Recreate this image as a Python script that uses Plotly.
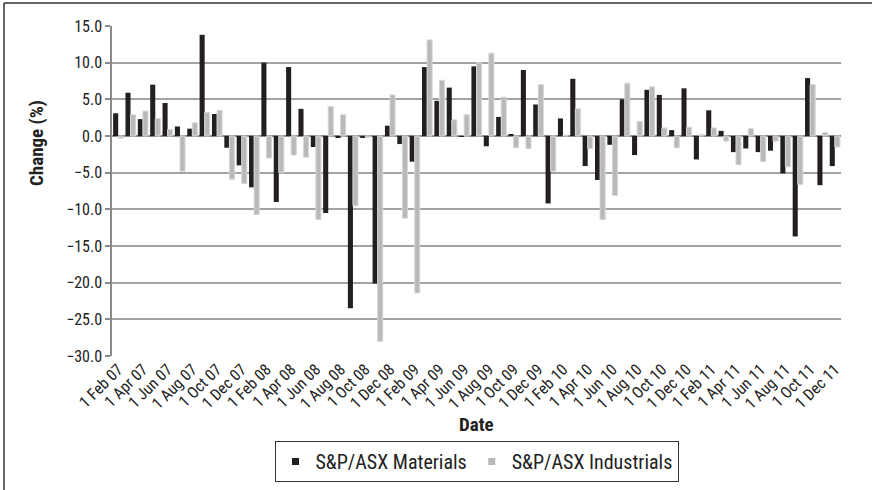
import plotly.graph_objects as go

months = ["Jan","Feb","Mar","Apr","May","Jun","Jul","Aug","Sep","Oct","Nov","Dec"]
dates = []
for yr in range(7, 12):
    for mi, m in enumerate(months):
        if yr == 7 and mi == 0:
            continue
        dates.append(f"1 {m} {yr:02d}")

materials = [3.1, 5.9, 2.3, 7.0, 4.5, 1.3, 1.0, 13.8, 3.0, -1.6, -4.0, -7.0,
             10.0, -9.0, 9.4, 3.7, -1.5, -10.5, -0.2, -23.5, -0.2, -20.1, 1.4, -1.1,
             -3.5, 9.4, 4.8, 6.6, -0.1, 9.5, -1.4, 2.6, 0.2, 9.0, 4.3, -9.2,
             2.4, 7.8, -4.1, -6.0, -1.2, 5.0, -2.6, 6.3, 5.6, 0.8, 6.5, -3.2,
             3.5, 0.7, -2.2, -1.7, -2.2, -2.0, -5.1, -13.7, 7.9, -6.7, -4.1]
industrials = [-0.3, 2.9, 3.4, 2.4, 0.9, -4.8, 1.8, 3.2, 3.5, -5.9, -6.5, -10.7,
               -3.0, -5.0, -2.6, -2.9, -11.4, 4.0, 2.9, -9.5, -0.2, -28.0, 5.6, -11.2,
               -21.4, 13.1, 7.6, 2.2, 2.9, 10.0, 11.3, 5.3, -1.6, -1.7, 7.0, -4.8,
               0.1, 3.7, -1.7, -11.4, -8.1, 7.2, 2.0, 6.7, 1.1, -1.6, 1.2, 0.2,
               1.1, -0.7, -3.9, 1.0, -3.5, -0.7, -4.2, -6.6, 7.0, 0.5, -1.5]
tick_labels = dates[::2]
y_ticks = [15, 10, 5, 0, -5, -10, -15, -20, -25, -30]

FONT = "Liberation Sans Narrow, Arial Narrow, Roboto Condensed, sans-serif"
BLACK = "#231f20"
GRAY = "#b9b9b9"

fig = go.Figure()
fig.add_trace(go.Bar(x=dates, y=materials, name="S&P/ASX Materials", showlegend=False,
                     marker=dict(color=BLACK, line=dict(width=0))))
fig.add_trace(go.Bar(x=dates, y=industrials, name="S&P/ASX Industrials", showlegend=False,
                     marker=dict(color=GRAY, line=dict(color="#d6d6d6", width=1))))
# legend entries with small square keys
fig.add_trace(go.Scatter(x=[None], y=[None], mode="markers", name="S&P/ASX Materials",
                         marker=dict(symbol="square", size=7, color=BLACK)))
fig.add_trace(go.Scatter(x=[None], y=[None], mode="markers", name="S&P/ASX Industrials",
                         marker=dict(symbol="square", size=7, color=GRAY)))

L, R, T, B = 112, 31, 26, 134
W, H = 872, 490
pw, ph = W - L - R, H - T - B

def px(xp):
    return (xp - L) / pw

def py(yp):
    return (H - B - yp) / ph

fig.update_layout(
    width=W, height=H,
    margin=dict(l=L, r=R, t=T, b=B, autoexpand=False),
    paper_bgcolor="white", plot_bgcolor="white",
    barmode="group", bargap=0.18, bargroupgap=0.0,
    font=dict(family=FONT, size=14, color="#222"),
    showlegend=True,
    legend=dict(orientation="h", x=0.5, xanchor="center", y=py(441), yanchor="top",
                bordercolor="#333", borderwidth=1, bgcolor="white",
                font=dict(family=FONT, size=20, color="#222"),
                itemwidth=30, tracegroupgap=0),
    xaxis=dict(type="category", tickmode="array", tickvals=tick_labels, ticktext=tick_labels,
               tickangle=-45, showgrid=False, showline=False, ticks="", automargin=False,
               tickfont=dict(family=FONT, size=16, color="#222")),
    yaxis=dict(range=[-30, 15], tickvals=y_ticks, tickformat=".1f", automargin=False,
               showgrid=True, gridcolor="#a3a3a3", gridwidth=1.5,
               zeroline=True, zerolinecolor="#8a8a8a", zerolinewidth=1.5,
               showline=True, linecolor="#8a8a8a", linewidth=1.5,
               ticks="outside", ticklen=5, tickcolor="#8a8a8a", tickwidth=1.5,
               tickfont=dict(family=FONT, size=16, color="#222")),
    annotations=[
        dict(text="<b>Date</b>", x=0.5, y=py(425), xref="paper", yref="paper",
             showarrow=False, font=dict(family=FONT, size=19, color="#222"),
             xanchor="center", yanchor="middle"),
        dict(text="<b>Change (%)</b>", x=px(36), y=py(143), xref="paper", yref="paper",
             showarrow=False, textangle=-90, font=dict(family=FONT, size=19, color="#222"),
             xanchor="center", yanchor="middle"),
    ],
    shapes=[
        dict(type="line", xref="paper", yref="paper", x0=px(4), x1=px(872), y0=py(3), y1=py(3),
             line=dict(color="#333", width=1.5)),
        dict(type="line", xref="paper", yref="paper", x0=px(4), x1=px(4), y0=py(3), y1=py(490),
             line=dict(color="#333", width=1.5)),
    ],
)

fig.write_html("out.html")
